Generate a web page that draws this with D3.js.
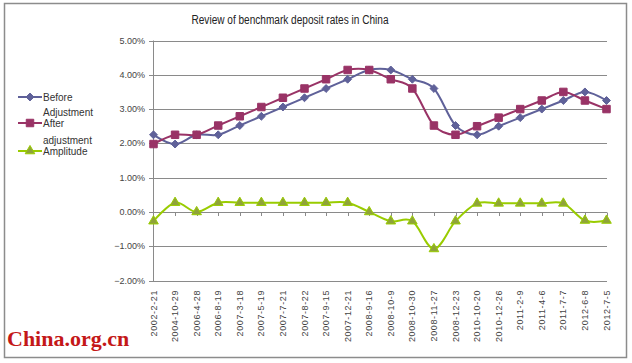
<!DOCTYPE html>
<html>
<head>
<meta charset="utf-8">
<title>Review of benchmark deposit rates in China</title>
<script src="https://cdnjs.cloudflare.com/ajax/libs/d3/7.8.5/d3.min.js"></script>
<style>
body { margin: 0; background: #fff; }
text { font-family: "Liberation Sans", sans-serif; fill: #333; }
.grid line { stroke: #8a8a8a; stroke-width: 1px; }
.ylab { font-size: 9px; fill: #444; }
.xlab { font-size: 9px; fill: #444; }
.legend text { font-size: 10px; fill: #333; }
</style>
</head>
<body>
<div id="chart"></div>
<script>
// dates of the rate changes
var dates = ["2002-2-21", "2004-10-29", "2006-4-28", "2006-8-19", "2007-3-18",
	"2007-5-19", "2007-7-21", "2007-8-22", "2007-9-15", "2007-12-21",
	"2008-9-16", "2008-10-9", "2008-10-30", "2008-11-27", "2008-12-23",
	"2010-10-20", "2010-12-26", "2011-2-9", "2011-4-6", "2011-7-7",
	"2012-6-8", "2012-7-5"];
var before = [2.25, 1.98, 2.25, 2.25, 2.52, 2.79, 3.06, 3.33, 3.60, 3.87,
	4.14, 4.14, 3.87, 3.60, 2.52, 2.25, 2.50, 2.75, 3.00, 3.25, 3.50, 3.25];
var after = [1.98, 2.25, 2.25, 2.52, 2.79, 3.06, 3.33, 3.60, 3.87, 4.14,
	4.14, 3.87, 3.60, 2.52, 2.25, 2.50, 2.75, 3.00, 3.25, 3.50, 3.25, 3.00];
var amplitude = [-0.27, 0.27, 0, 0.27, 0.27, 0.27, 0.27, 0.27, 0.27, 0.27,
	0, -0.27, -0.27, -1.08, -0.27, 0.25, 0.25, 0.25, 0.25, 0.25, -0.25, -0.25];
var yTicks = [5, 4, 3, 2, 1, 0, -1, -2];
var seriesNames = ["Before Adjustment", "After adjustment", "Amplitude"];

var width = 632, height = 363;
var svg = d3.select("#chart").append("svg")
	.attr("width", width).attr("height", height);

// outer frame
svg.append("rect").attr("x", 4.5).attr("y", 3.5).attr("width", 622).attr("height", 354)
	.attr("fill", "#fff").attr("stroke", "#8c8c8c").attr("stroke-width", 1.5);

svg.append("text").attr("x", 290).attr("y", 24).attr("text-anchor", "middle")
	.style("font-size", "12px").style("fill", "#222")
	.attr("textLength", 197).attr("lengthAdjust", "spacingAndGlyphs")
	.text("Review of benchmark deposit rates in China");

var x = d3.scalePoint().domain(dates).range([153.5, 606.5]);
var y = d3.scaleLinear().domain([-2, 5]).range([280.5, 40.5]);

// gridlines
svg.append("g").attr("class", "grid").selectAll("line").data(yTicks).enter()
	.append("line")
	.attr("x1", 149).attr("x2", 607)
	.attr("y1", function(d) { return Math.round(y(d)) + 0.5; })
	.attr("y2", function(d) { return Math.round(y(d)) + 0.5; });

svg.append("line").attr("x1", 153.5).attr("x2", 153.5).attr("y1", y(5)).attr("y2", y(-2) + 0.5)
	.attr("stroke", "#8a8a8a");

svg.selectAll(".ylab").data(yTicks).enter().append("text")
	.attr("class", "ylab")
	.attr("x", 145).attr("y", function(d) { return y(d) + 3; })
	.attr("text-anchor", "end")
	.text(function(d) { return d3.format(".2f")(d) + "%"; });

// category ticks on the zero line
svg.append("g").selectAll("line").data(dates).enter().append("line")
	.attr("x1", function(d) { return Math.round(x(d)) + 0.5; })
	.attr("x2", function(d) { return Math.round(x(d)) + 0.5; })
	.attr("y1", Math.round(y(0)) + 0.5).attr("y2", Math.round(y(0)) + 4)
	.attr("stroke", "#8a8a8a");

svg.selectAll(".xlab").data(dates).enter().append("text")
	.attr("class", "xlab")
	.attr("text-anchor", "end")
	.attr("transform", function(d) { return "translate(" + (x(d) + 3) + ",290) rotate(-90)"; })
	.style("letter-spacing", "0.6px")
	.text(function(d) { return d; });

var line = d3.line()
	.x(function(d, i) { return x(dates[i]); })
	.y(function(d) { return y(d); })
	.curve(d3.curveCardinal.tension(0));

var colors = ["#5f6199", "#993366", "#99cc00"];

function drawSeries(vals, color, marker, mfill) {
	svg.append("path").datum(vals).attr("d", line)
		.attr("fill", "none").attr("stroke", color).attr("stroke-width", 2);
	svg.append("g").selectAll("path").data(vals).enter().append("path")
		.attr("transform", function(d, i) { return "translate(" + x(dates[i]) + "," + y(d) + ")"; })
		.attr("d", marker)
		.attr("fill", mfill).attr("stroke", color).attr("stroke-width", 1);
}

var diamond = d3.symbol().type(d3.symbolDiamond2).size(40)();
var square = d3.symbol().type(d3.symbolSquare).size(56)();
var triangle = d3.symbol().type(d3.symbolTriangle).size(40)();

drawSeries(before, colors[0], diamond, colors[0]);
drawSeries(after, colors[1], square, colors[1]);
drawSeries(amplitude, colors[2], triangle, "#8fa33a");

// legend
var leg = svg.append("g").attr("class", "legend");
var legY = [97, 123, 151];
var markers = [diamond, square, triangle];
var mfills = [colors[0], colors[1], "#8fa33a"];
legY.forEach(function(ly, i) {
	leg.append("line").attr("x1", 18).attr("x2", 42).attr("y1", ly).attr("y2", ly)
		.attr("stroke", colors[i]).attr("stroke-width", 2);
	leg.append("path").attr("d", markers[i]).attr("transform", "translate(30," + ly + ")")
		.attr("fill", mfills[i]).attr("stroke", colors[i]);
});
leg.append("text").attr("x", 43).attr("y", 100.5).text("Before");
leg.append("text").attr("x", 43).attr("y", 116).text("Adjustment");
leg.append("text").attr("x", 43).attr("y", 127).text("After");
leg.append("text").attr("x", 43).attr("y", 143.5).text("adjustment");
leg.append("text").attr("x", 43).attr("y", 154.5).text("Amplitude");

// watermark
svg.append("text").attr("x", 7).attr("y", 346)
	.style("font-family", "'Liberation Serif', serif").style("font-weight", "bold")
	.style("font-size", "22px").style("fill", "#c41818")
	.text("China.org.cn");
</script>
</body>
</html>
